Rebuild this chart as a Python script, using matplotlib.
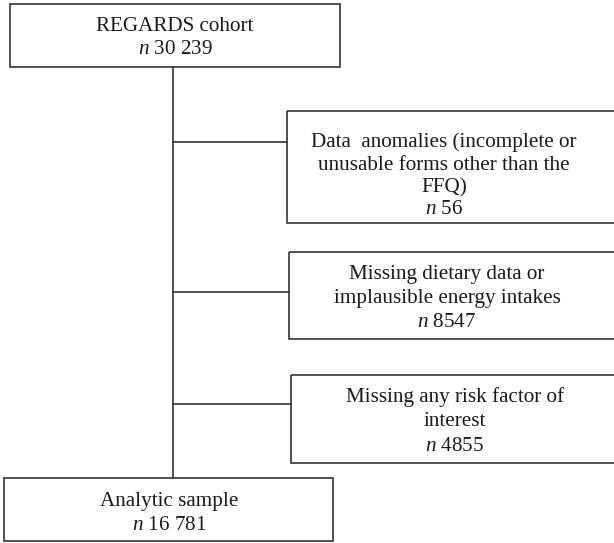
import matplotlib.pyplot as plt
from matplotlib.patches import Rectangle

plt.rcParams['font.family'] = 'Liberation Serif'
plt.rcParams['mathtext.fontset'] = 'custom'
plt.rcParams['mathtext.rm'] = 'Liberation Serif'
plt.rcParams['mathtext.it'] = 'Liberation Serif:italic'

# flow boxes: text lines and counts
main_labels = ['REGARDS cohort', 'Analytic sample']
main_n = ['30 239', '16 781']
excl_labels = [['Data  anomalies (incomplete or', 'unusable forms other than the', 'FFQ)'],
               ['Missing dietary data or', 'implausible energy intakes'],
               ['Missing any risk factor of', 'interest']]
excl_n = ['56', '8547', '4855']

fig = plt.figure(figsize=(6.14, 5.43), dpi=100)
ax = fig.add_axes([0, 0, 1, 1])
ax.set_xlim(0, 614)
ax.set_ylim(543, 0)
ax.axis('off')

lc = '#333333'
lw = 1.2
fs = 15.2

def box(x0, y0, x1, y1):
    ax.add_patch(Rectangle((x0, y0), x1 - x0, y1 - y0, fill=False, ec=lc, lw=lw))

def lines(xc, ys, texts):
    # ys are baselines
    for y, t in zip(ys, texts):
        ax.text(xc, y, t, ha='center', va='baseline', fontsize=fs, color='#1a1a1a')

# main boxes
box(10, 4, 340, 67)
lines(175, [31, 54], [main_labels[0], '$n$ ' + main_n[0]])
box(4, 478, 333, 541)
lines(169, [506, 530], [main_labels[1], '$n$ ' + main_n[1]])

# trunk
ax.plot([173, 173], [67, 478], color=lc, lw=lw)

# exclusion boxes
geom = [(287, 111, 223, 142, 444, [146.5, 169.5, 192.5, 213.5]),
        (289, 252, 339, 292, 447, [279.5, 303, 327]),
        (291, 375, 463, 404, 455, [402, 426.5, 451])]
for (x0, y0, y1, yc, xc, ys), lab, n in zip(geom, excl_labels, excl_n):
    box(x0, y0, 640, y1)
    ax.plot([173, x0], [yc, yc], color=lc, lw=lw)
    lines(xc, ys, lab + ['$n$ ' + n])

fig.savefig('out.png', dpi=100)
